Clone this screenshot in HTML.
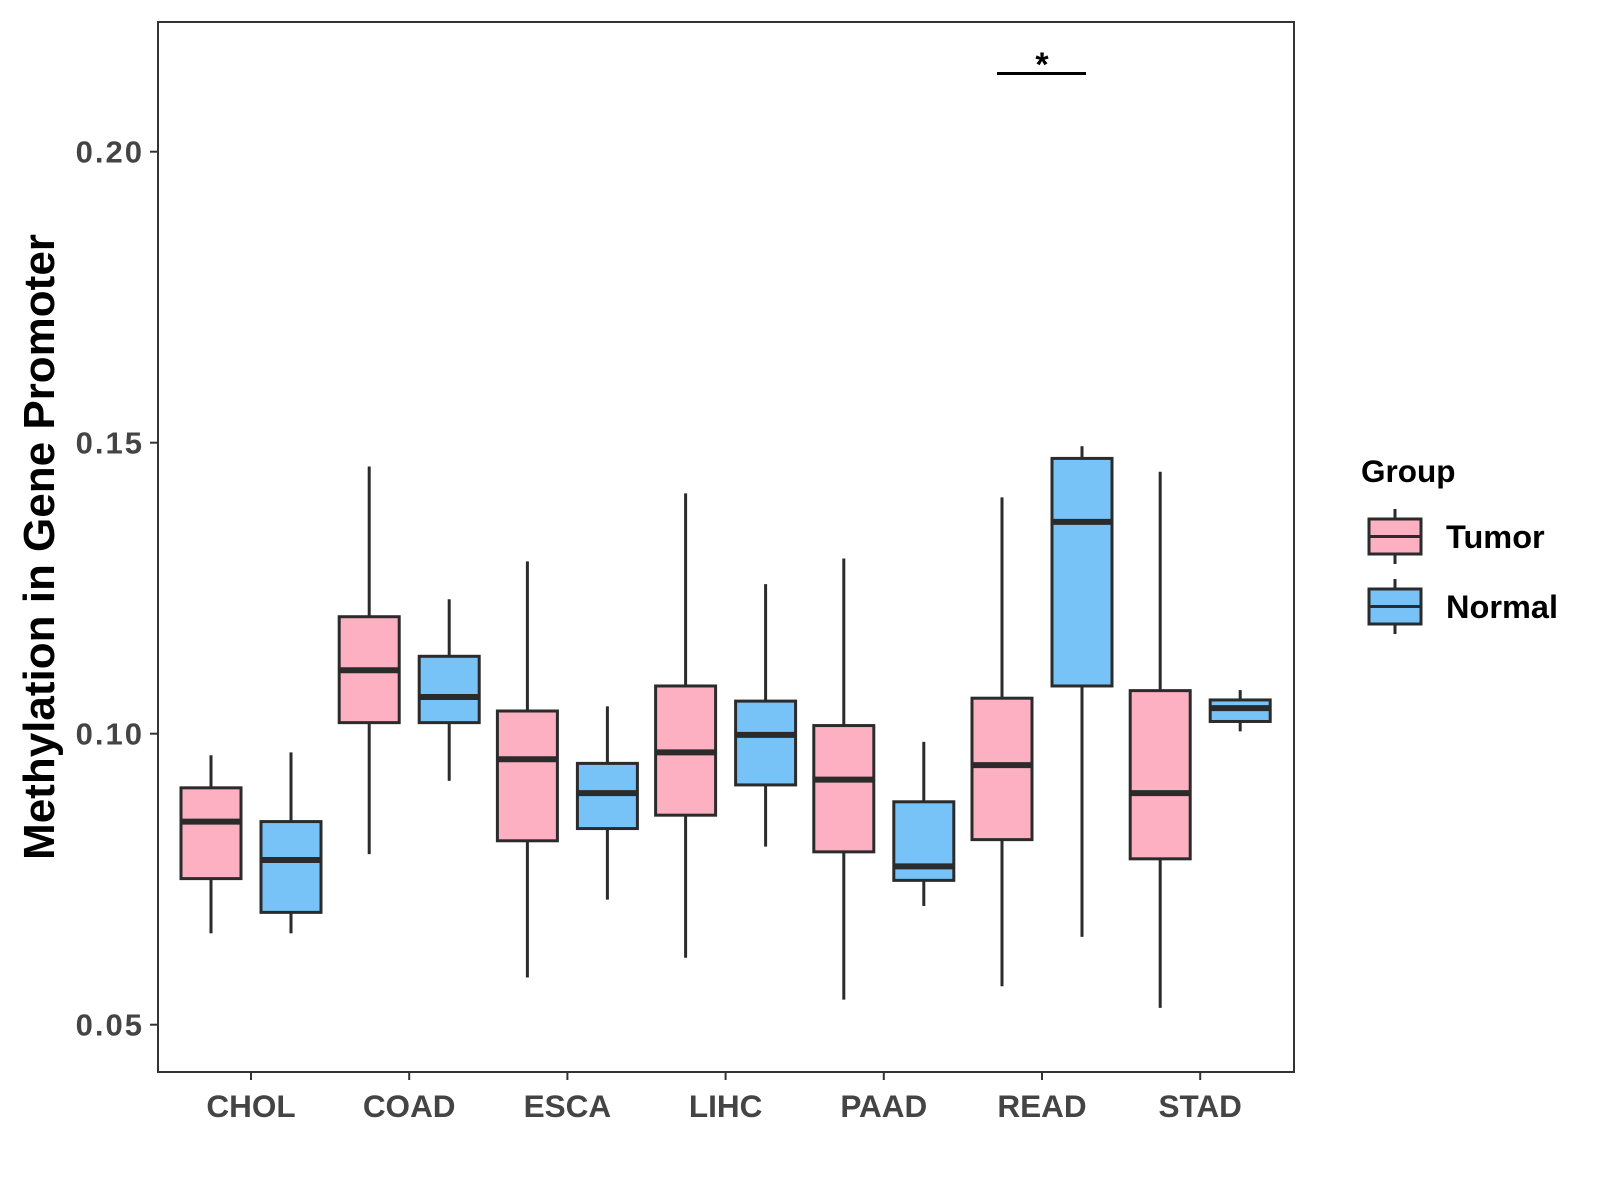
<!DOCTYPE html>
<html><head><meta charset="utf-8"><style>
body{margin:0;background:#fff;}
svg{display:block;font-family:"Liberation Sans",Arial,sans-serif;font-weight:bold;}
</style></head><body>
<svg width="1600" height="1200" viewBox="0 0 1600 1200">
<g id="plot"></g>
</svg>
<script>
const categories=["CHOL","COAD","ESCA","LIHC","PAAD","READ","STAD"];
const groups=["Tumor","Normal"];
// [lowerWhisker, q1, median, q3, upperWhisker]
const tumorStats=[
[0.0657,0.0751,0.0849,0.0907,0.0963],
[0.0793,0.1019,0.1109,0.1201,0.1459],
[0.0581,0.0816,0.0956,0.1039,0.1296],
[0.0615,0.0860,0.0968,0.1082,0.1413],
[0.0543,0.0797,0.0921,0.1014,0.1301],
[0.0566,0.0818,0.0946,0.1061,0.1406],
[0.0529,0.0785,0.0898,0.1074,0.1450]];
const normalStats=[
[0.0657,0.0693,0.0783,0.0849,0.0968],
[0.0919,0.1019,0.1063,0.1133,0.1231],
[0.0715,0.0837,0.0898,0.0949,0.1047],
[0.0806,0.0912,0.0998,0.1056,0.1257],
[0.0704,0.0748,0.0772,0.0883,0.0986],
[0.0651,0.1082,0.1364,0.1473,0.1494],
[0.1004,0.1021,0.1044,0.1058,0.1075]];
const yTicks=[0.05,0.10,0.15,0.20];
const yTickLabels=["0.05","0.10","0.15","0.20"];
const sigLabel="*";
const sigCategory="READ";

const NS="http://www.w3.org/2000/svg";
const g=document.getElementById('plot');
const L=158,T=22,R=1294,B=1072;
const y=v=>733.7-(v-0.10)*(291/0.05);
const x=i=>251+i*158.2;
function mk(tag,attrs,parent){const e=document.createElementNS(NS,tag);for(const k in attrs)e.setAttribute(k,attrs[k]);(parent||g).appendChild(e);return e;}

const panel=mk('rect',{x:L,y:T,width:R-L,height:B-T,fill:'#fff',stroke:'#333','stroke-width':2});



yTicks.forEach((v,i)=>{
  const t=mk('line',{x1:L-8,x2:L,y1:y(v),y2:y(v),stroke:'#333','stroke-width':2});
  
  
  const tx=mk('text',{x:L-14,y:y(v)+11,'text-anchor':'end','font-size':31,'letter-spacing':2,fill:'#444'});
  tx.textContent=yTickLabels[i];
  
  
});
categories.forEach((c,i)=>{
  const t=mk('line',{x1:x(i),x2:x(i),y1:B,y2:B+8,stroke:'#333','stroke-width':2});
  
  
  const tx=mk('text',{x:x(i),y:B+45,'text-anchor':'middle','font-size':31.5,fill:'#444'});
  tx.textContent=c;
  
  
});

function box(cx,s,fill,name){
  const grp=mk('g',{});
  
  
  const w=60;
  mk('line',{x1:cx,x2:cx,y1:y(s[0]),y2:y(s[1]),stroke:'#2b2b2b','stroke-width':3},grp);
  mk('line',{x1:cx,x2:cx,y1:y(s[3]),y2:y(s[4]),stroke:'#2b2b2b','stroke-width':3},grp);
  mk('rect',{x:cx-w/2,y:y(s[3]),width:w,height:y(s[1])-y(s[3]),fill:fill,stroke:'#2b2b2b','stroke-width':3},grp);
  mk('line',{x1:cx-w/2,x2:cx+w/2,y1:y(s[2]),y2:y(s[2]),stroke:'#2b2b2b','stroke-width':6},grp);
}
categories.forEach((c,i)=>{
  box(x(i)-40,tumorStats[i],'#fcb0c2','box-tumor-'+c.toLowerCase());
  box(x(i)+40,normalStats[i],'#77c3f8','box-normal-'+c.toLowerCase());
});

const si=categories.indexOf(sigCategory);
const sl=mk('line',{x1:x(si)-45,x2:x(si)+44,y1:73.5,y2:73.5,stroke:'#000','stroke-width':3});


const st=mk('text',{x:x(si),y:76,'text-anchor':'middle','font-size':34,fill:'#000'});
st.textContent=sigLabel;



const yt=mk('text',{x:0,y:0,'text-anchor':'middle','font-size':44,fill:'#000',transform:'translate(54,547) rotate(-90)'});
yt.textContent='Methylation in Gene Promoter';



const lt=mk('text',{x:1361,y:482,'font-size':31.5,fill:'#000'});
lt.textContent='Group';


const legFill=['#fcb0c2','#77c3f8'];
groups.forEach((gname,k)=>{
  const top=519+k*70;
  const lg=mk('g',{});
  
  
  mk('line',{x1:1395,x2:1395,y1:top-10,y2:top+45,stroke:'#2b2b2b','stroke-width':3},lg);
  mk('rect',{x:1369,y:top,width:52,height:35,fill:legFill[k],stroke:'#2b2b2b','stroke-width':3},lg);
  mk('line',{x1:1369,x2:1421,y1:top+17.5,y2:top+17.5,stroke:'#2b2b2b','stroke-width':3},lg);
  const tx=mk('text',{x:1446,y:top+29,'font-size':32.5,fill:'#000'},lg);
  tx.textContent=gname;
});
</script>
</body></html>
